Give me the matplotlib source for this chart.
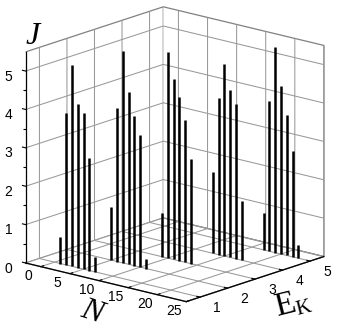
import numpy as np
import matplotlib
matplotlib.use("Agg")
import matplotlib.pyplot as plt
from matplotlib.ticker import NullFormatter

plt.rcParams['font.family'] = ['Liberation Sans', 'DejaVu Sans']

# E_K level -> first N and the J values
e_levels = [1, 2, 3, 4, 5]
n_start = [1, 5, 9, 13, 17]
j_e1 = [0.69, 3.97, 5.24, 4.26, 4.07, 2.93, 0.39]
j_e2 = [1.39, 4.00, 5.51, 4.48, 3.90, 3.45, 0.24]
j_e3 = [1.13, 5.38, 4.70, 4.28, 3.72, 2.73]
j_e4 = [2.11, 4.08, 5.00, 4.36, 4.03, 1.55]
j_e5 = [0.96, 3.91, 5.35, 4.37, 3.67, 2.75, 0.34]
j_all = [j_e1, j_e2, j_e3, j_e4, j_e5]

n_ticks = [0, 5, 10, 15, 20, 25]
e_ticks = [1, 2, 3, 4, 5]
j_ticks = [0, 1, 2, 3, 4, 5]
j_minor = [0.5, 1.5, 2.5, 3.5, 4.5]

n_lim = (-2.6, 25)
e_lim = (0.5, 5.5)
j_lim = (0, 5.5)

fig = plt.figure(figsize=(3.39, 3.29), dpi=100)
ax = fig.add_axes([12 / 339, 12 / 329, 317 / 339, 317 / 329], projection='3d',
                  computed_zorder=False)
ax.set_proj_type('ortho')
ax.view_init(elev=16.3, azim=-49.4)
ax.set_box_aspect((1, 1, 1.04), zoom=1.137)

ax.set_xlim(*n_lim, view_margin=0)
ax.set_ylim(*e_lim, view_margin=0)
ax.set_zlim(*j_lim, view_margin=0)

ax.set_xticks(n_ticks)
ax.set_yticks(e_ticks)
ax.set_zticks(j_ticks)

# put the J axis on the left edge
ax.zaxis._axinfo['juggled'] = (1, 2, 0)

for axis in (ax.xaxis, ax.yaxis, ax.zaxis):
    axis.set_major_formatter(NullFormatter())
    for t in axis.get_major_ticks():
        t.label1.set_visible(False)
    axis.set_pane_color((1, 1, 1, 1))
    axis.pane.set_edgecolor('#808080')
    axis.pane.set_linewidth(0.9)
    axis.line.set_color('black')
    axis.line.set_linewidth(0.9)
    axis._axinfo['grid'].update(color='#999999', linewidth=0.75)
    axis._axinfo['tick'].update(inward_factor=0.0, outward_factor=0.25)
ax.grid(True)

# bars
for e, start, vals in zip(e_levels, n_start, j_all):
    for i, v in enumerate(vals):
        ax.plot([start + i, start + i], [e, e], [0, v], color='black', lw=1.8,
                solid_capstyle='butt', zorder=5)

# minor ticks on the J axis
ax.plot([n_lim[0]] * len(j_minor), [e_lim[0]] * len(j_minor), j_minor, ls='',
        marker=0, ms=2.5, mew=0.8, color='black', zorder=6)

# tick labels, the default 3d offsets sit too far from the box
for n in n_ticks:
    ax.text(n, e_lim[0] - 0.45, -0.14, str(n), fontsize=10, ha='center', va='center')
for e in e_ticks:
    ax.text(n_lim[1] + 2.9, e, -0.17, str(e), fontsize=10, ha='center', va='center')
for j in j_ticks:
    ax.text(n_lim[0], e_lim[0] - 0.62, j, str(j), fontsize=10, ha='center', va='center')

fig.text(0.095, 0.89, 'J', family='Liberation Serif', style='italic', fontsize=23,
         ha='center', va='center')
fig.text(0.271, 0.052, 'N', family='Liberation Serif', style='italic', fontsize=23,
         rotation=-18, ha='center', va='center')
fig.text(0.84, 0.07, 'E', family='Liberation Serif', fontsize=24,
         rotation=14, ha='center', va='center')
fig.text(0.895, 0.06, 'K', family='Liberation Serif', fontsize=15,
         rotation=14, ha='center', va='center')

fig.savefig('out.png', dpi=100)
